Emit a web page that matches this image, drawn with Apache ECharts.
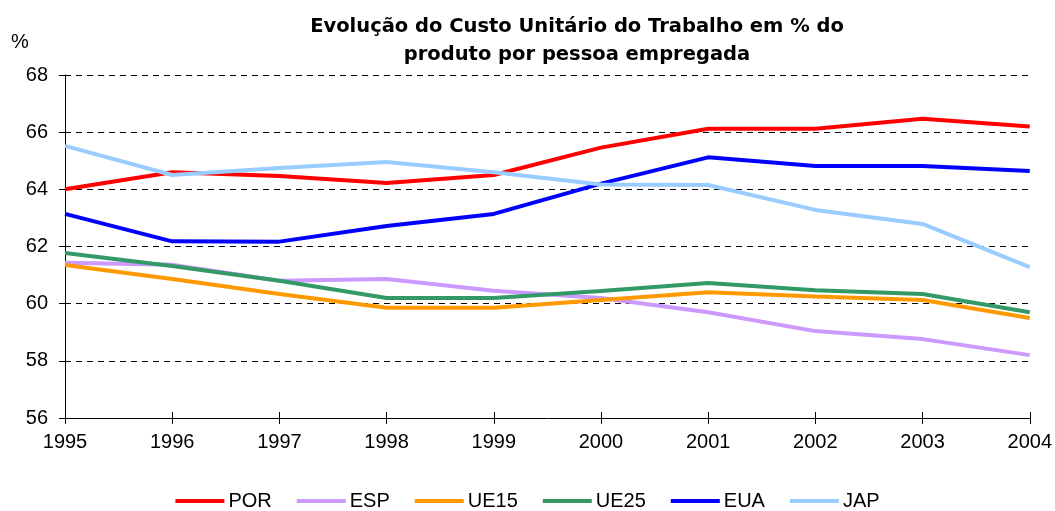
<!DOCTYPE html>
<html>
<head>
<meta charset="utf-8">
<script src="https://cdn.jsdelivr.net/npm/echarts@6/dist/echarts.min.js"></script>
<style>html,body{margin:0;padding:0;background:#fff}#c{width:1055px;height:511px}</style>
</head>
<body>
<div id="c"></div>
<script>
const years = ['1995','1996','1997','1998','1999','2000','2001','2002','2003','2004'];
const POR  = [64.0, 64.6, 64.47, 64.22, 64.5, 65.46, 66.12, 66.12, 66.47, 66.2];
const ESP  = [61.43, 61.36, 60.8, 60.86, 60.45, 60.2, 59.7, 59.04, 58.76, 58.2];
const UE15 = [61.35, 60.86, 60.34, 59.86, 59.86, 60.13, 60.4, 60.25, 60.13, 59.5];
const UE25 = [61.77, 61.32, 60.8, 60.2, 60.2, 60.44, 60.72, 60.47, 60.34, 59.7];
const EUA  = [63.14, 62.18, 62.17, 62.72, 63.14, 64.2, 65.12, 64.82, 64.82, 64.64];
const JAP  = [65.52, 64.5, 64.75, 64.96, 64.6, 64.17, 64.15, 63.28, 62.79, 61.28];
const seriesNames = ['POR','ESP','UE15','UE25','EUA','JAP'];
const seriesData = [POR, ESP, UE15, UE25, EUA, JAP];
const colors = ['#ff0000','#cc99ff','#ff9900','#339966','#0000ff','#99ccff'];
const titleText = 'Evolução do Custo Unitário do Trabalho em % do\nproduto por pessoa empregada';

const font = 'Liberation Sans, Arial, sans-serif';
const chart = echarts.init(document.getElementById('c'));
chart.setOption({
  animation: false,
  color: colors,
  graphic: [
    {type: 'text', x: 577, y: 13, style: {text: titleText, align: 'center', verticalAlign: 'top',
      font: 'bold 19.5px DejaVu Sans', lineHeight: 28, fill: '#000'}},
    {type: 'text', left: 11, top: 32, style: {text: '%', font: '20px Liberation Sans', fill: '#000'}}
  ],
  legend: {
    bottom: -5, left: 'center', icon: 'rect', itemWidth: 49, itemHeight: 4, itemGap: 25,
    textStyle: {fontFamily: font, fontSize: 20, color: '#000', padding: [0,0,0,-1]},
    data: seriesNames
  },
  grid: {left: 65, right: 24, top: 75, bottom: 93, containLabel: false},
  xAxis: [{
    type: 'category', data: years, boundaryGap: false,
    axisLine: {lineStyle: {color: '#000', width: 1}},
    axisTick: {show: true, length: 6, lineStyle: {color: '#000'}},
    axisLabel: {fontFamily: font, fontSize: 20, color: '#000', margin: 14},
    splitLine: {show: false}
  }, {
    type: 'category', data: years, boundaryGap: false, position: 'bottom',
    axisLine: {show: false},
    axisTick: {show: true, inside: true, length: 6, lineStyle: {color: '#000'}},
    axisLabel: {show: false}, splitLine: {show: false}
  }],
  yAxis: [{
    type: 'value', min: 56, max: 68, interval: 2,
    axisLine: {show: true, lineStyle: {color: '#000', width: 1}},
    axisTick: {show: true, length: 6, lineStyle: {color: '#000'}},
    axisLabel: {fontFamily: font, fontSize: 20, color: '#000', margin: 17},
    splitLine: {show: true, lineStyle: {color: '#000', type: [6, 5], width: 1}}
  }, {
    type: 'value', min: 56, max: 68, interval: 2, position: 'left',
    axisLine: {show: false},
    axisTick: {show: true, inside: true, length: 6, lineStyle: {color: '#000'}},
    axisLabel: {show: false}, splitLine: {show: false}
  }],
  series: seriesNames.map((n, i) => ({
    name: n, type: 'line', data: seriesData[i], showSymbol: false, symbol: 'none',
    lineStyle: {width: 4, color: colors[i]}, itemStyle: {color: colors[i]}
  }))
});
</script>
</body>
</html>
